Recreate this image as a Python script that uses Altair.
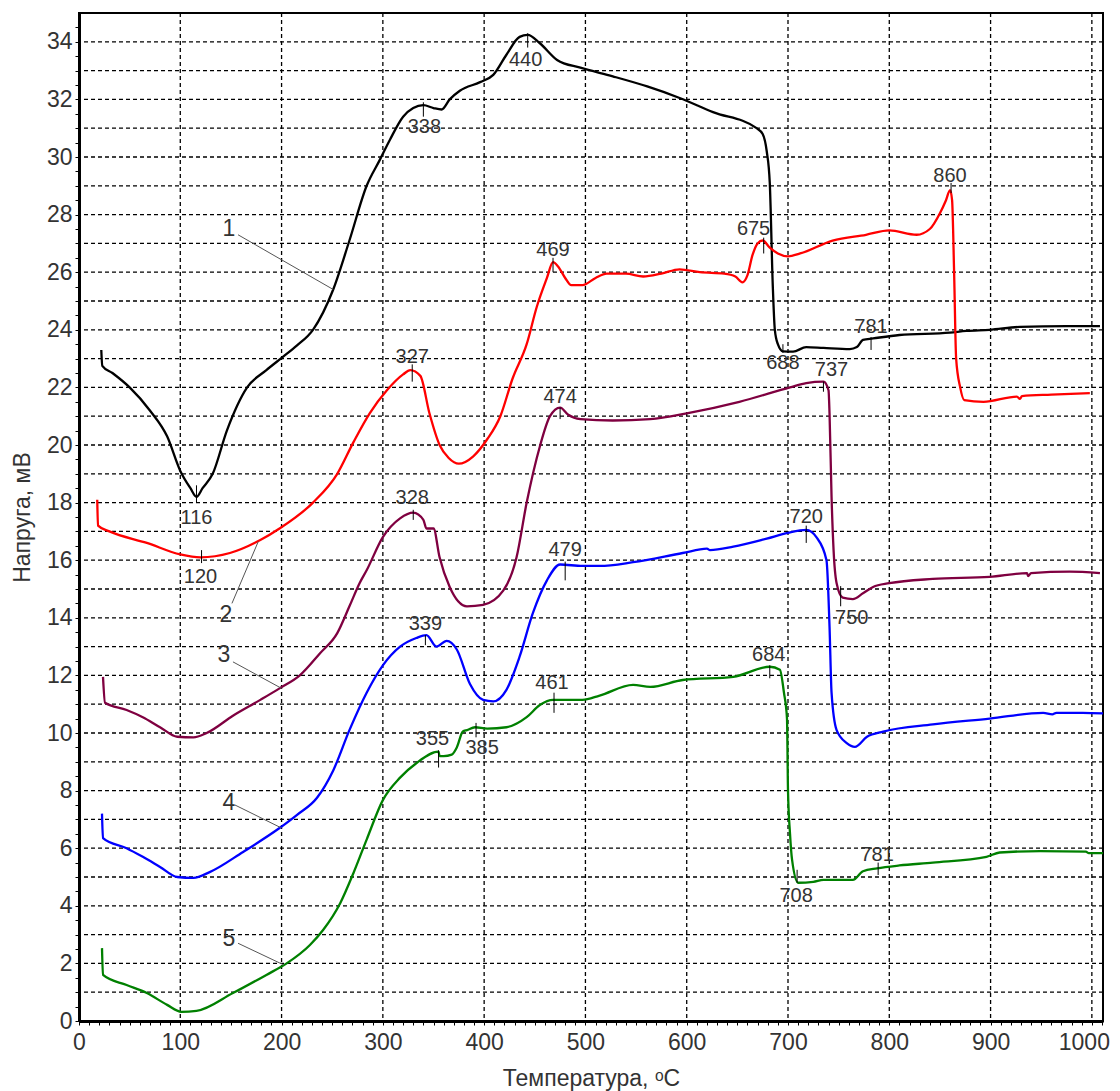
import altair as alt
import pandas as pd

# ---------------- data ----------------
c1_x = [22, 23, 33, 50, 70, 87, 100, 110, 116, 122, 132, 146, 166, 185, 201, 215, 231, 251, 267, 284, 297, 307, 320, 330, 340, 350, 358, 366, 376, 396, 409, 422, 435, 443, 455, 472, 495, 527, 561, 593, 626, 669, 675, 679, 682, 685, 687, 690, 695, 705, 718, 735, 761, 768, 774, 784, 810, 860, 876, 899, 929, 975, 1008]
c1_y = [23.3, 22.75, 22.5, 22.0, 21.2, 20.3, 19.1, 18.5, 18.2, 18.5, 19.0, 20.5, 22.0, 22.6, 23.05, 23.45, 24.0, 25.4, 27.1, 29.0, 29.9, 30.6, 31.4, 31.7, 31.8, 31.7, 31.65, 32.0, 32.3, 32.6, 32.85, 33.55, 34.17, 34.24, 33.95, 33.37, 33.1, 32.8, 32.45, 32.05, 31.56, 31.0, 30.8, 30.2, 29.1, 25.5, 24.0, 23.5, 23.25, 23.24, 23.4, 23.37, 23.33, 23.4, 23.65, 23.7, 23.82, 23.9, 23.96, 24.0, 24.1, 24.13, 24.13]

c2_x = [18, 18.8, 30, 67, 100, 120, 149, 179, 198, 231, 255, 271, 287, 304, 320, 327, 337, 346, 356, 365, 375, 389, 403, 416, 428, 442, 452, 462, 468, 473, 480, 486, 497, 510, 521, 540, 557, 575, 593, 613, 637, 648, 655, 660, 665, 670, 675, 682, 690, 700, 712, 744, 777, 800, 827, 840, 850, 856, 860, 862, 864, 866, 870, 874, 893, 926, 929, 931, 960, 998]
c2_y = [18.1, 17.2, 17.0, 16.6, 16.2, 16.1, 16.25, 16.7, 17.1, 18.0, 19.0, 20.1, 21.1, 21.9, 22.45, 22.6, 22.4, 21.1, 20.0, 19.55, 19.35, 19.6, 20.2, 21.0, 22.3, 23.5, 24.8, 25.8, 26.35, 26.2, 25.8, 25.55, 25.55, 25.8, 25.95, 25.95, 25.85, 25.95, 26.1, 26.0, 25.95, 25.85, 25.65, 25.9, 26.6, 27.0, 27.1, 26.85, 26.65, 26.55, 26.65, 27.1, 27.3, 27.45, 27.3, 27.5, 28.05, 28.5, 28.85, 28.5, 26.0, 23.0, 22.0, 21.56, 21.5, 21.68, 21.6, 21.7, 21.75, 21.8]

c3_x = [23.7, 25.7, 47, 63, 80, 97, 113, 126, 152, 179, 198, 218, 238, 255, 267, 277, 284, 300, 317, 330, 340, 343, 350, 356, 366, 383, 399, 419, 432, 442, 455, 465, 475, 483, 495, 527, 564, 600, 652, 702, 718, 735, 740, 741, 743, 745, 748, 754, 764, 774, 784, 800, 843, 899, 936, 937, 940, 978, 1008]
c3_y = [11.95, 11.05, 10.8, 10.55, 10.2, 9.87, 9.85, 10.0, 10.6, 11.15, 11.55, 12.0, 12.77, 13.47, 14.4, 15.2, 15.65, 16.8, 17.45, 17.65, 17.4, 17.1, 17.1, 16.1, 15.07, 14.4, 14.45, 14.95, 16.1, 18.0, 19.95, 21.0, 21.3, 21.05, 20.9, 20.85, 20.9, 21.1, 21.5, 22.0, 22.15, 22.2, 21.9, 21.1, 18.2, 16.35, 15.2, 14.7, 14.65, 14.85, 15.07, 15.2, 15.35, 15.42, 15.55, 15.45, 15.55, 15.6, 15.55]

c4_x = [22.7, 23.7, 47, 63, 80, 97, 113, 129, 162, 198, 215, 235, 251, 267, 284, 300, 317, 333, 343, 353, 363, 373, 386, 399, 409, 422, 435, 448, 462, 475, 497, 514, 547, 596, 620, 623, 646, 679, 700, 718, 728, 738, 741, 743, 748, 758, 766, 778, 794, 843, 899, 952, 961, 965, 991, 1011]
c4_y = [7.2, 6.35, 6.0, 5.7, 5.35, 5.0, 4.97, 5.17, 5.87, 6.7, 7.15, 7.75, 8.7, 10.1, 11.4, 12.35, 13.0, 13.3, 13.4, 13.0, 13.2, 12.9, 11.7, 11.15, 11.1, 11.5, 12.65, 14.15, 15.3, 15.85, 15.8, 15.8, 15.93, 16.25, 16.4, 16.35, 16.47, 16.75, 16.95, 17.05, 16.8, 16.0, 13.7, 11.4, 10.1, 9.65, 9.52, 9.87, 10.05, 10.3, 10.5, 10.7, 10.65, 10.7, 10.7, 10.68]

c5_x = [22.7, 23.7, 47, 67, 87, 101, 116, 152, 185, 205, 228, 241, 258, 271, 284, 300, 317, 333, 355, 356, 360, 368, 373, 379, 383, 391, 403, 422, 442, 455, 468, 497, 514, 547, 564, 596, 646, 682, 692, 696, 699, 700, 702, 704, 710, 725, 735, 764, 774, 788, 810, 843, 896, 909, 949, 994, 997, 1011]
c5_y = [2.53, 1.6, 1.25, 0.97, 0.56, 0.32, 0.35, 0.97, 1.6, 2.0, 2.64, 3.16, 4.1, 5.14, 6.3, 7.67, 8.45, 8.95, 9.35, 9.2, 9.2, 9.25, 9.5, 10.05, 10.1, 10.2, 10.15, 10.2, 10.55, 10.97, 11.15, 11.15, 11.3, 11.67, 11.6, 11.84, 11.95, 12.3, 12.2, 11.4, 10.5, 8.0, 6.5, 5.6, 4.8, 4.83, 4.9, 4.9, 5.2, 5.3, 5.4, 5.5, 5.7, 5.85, 5.9, 5.88, 5.83, 5.83]

curve_names = ["1", "2", "3", "4", "5"]
curve_colors = ["#000000", "#ff0000", "#7f0040", "#0000ff", "#008000"]

# peak annotations: label, tick x, tick y from/to, text x, text y
ann_label = ["440", "338", "116", "120", "327", "328", "339", "469", "474", "479", "461", "355", "385", "675", "688", "737", "720", "750", "684", "708", "781", "781", "860"]
ann_tick_x = [443, 340, 116, 121, 329, 330, 342, 468, 475, 480, 469, 355, 392, 676, 695, 735, 718, 752, 682, 709, 789, 782, 861]
ann_tick_y1 = [33.8, 31.4, 18.0, 15.9, 22.2, 17.4, 13.05, 26.0, 20.9, 15.3, 10.7, 8.8, 9.85, 26.65, 23.2, 21.85, 16.6, 14.4, 11.9, 4.8, 5.07, 23.3, 28.75]
ann_tick_y2 = [34.3, 31.9, 18.6, 16.35, 22.8, 17.75, 13.4, 26.5, 21.3, 15.95, 11.4, 9.4, 10.35, 27.2, 23.5, 22.2, 17.2, 15.1, 12.35, 5.25, 5.5, 23.75, 29.1]
ann_text_x = [441, 341, 116, 120, 329, 329, 342, 468, 475, 480, 467, 349, 398, 666, 695, 743, 718, 763, 681, 708, 788, 782, 860]
ann_text_y = [33.37, 31.05, 17.45, 15.4, 23.05, 18.15, 13.8, 26.77, 21.67, 16.35, 11.74, 9.8, 9.48, 27.5, 22.85, 22.6, 17.5, 14.0, 12.7, 4.33, 5.77, 24.1, 29.35]

# curve number labels with leader lines
num_label = ["1", "2", "3", "4", "5"]
num_text_x = [148, 145, 143, 148, 148]
num_text_y = [27.5, 14.1, 12.7, 7.57, 2.85]
lead_x1 = [157, 151, 152, 154, 157]
lead_y1 = [27.3, 14.5, 12.47, 7.5, 2.7]
lead_x2 = [251, 177, 200, 200, 202]
lead_y2 = [25.4, 16.65, 11.55, 6.7, 1.95]

x_ticks = list(range(0, 1011, 10))
y_ticks = [v / 2 for v in range(0, 70)]
x_grid = list(range(100, 1001, 100))
y_grid = list(range(1, 35))

# ---------------- tables ----------------
rows = []
for name, xs, ys in zip(curve_names, [c1_x, c2_x, c3_x, c4_x, c5_x], [c1_y, c2_y, c3_y, c4_y, c5_y]):
    for i, (xv, yv) in enumerate(zip(xs, ys)):
        rows.append({"curve": name, "x": xv, "y": yv, "i": i})
curves = pd.DataFrame(rows)

ann = pd.DataFrame({"label": ann_label, "tx": ann_tick_x, "ty1": ann_tick_y1, "ty2": ann_tick_y2,
                    "lx": ann_text_x, "ly": ann_text_y})
nums = pd.DataFrame({"label": num_label, "lx": num_text_x, "ly": num_text_y,
                     "x1": lead_x1, "y1": lead_y1, "x2": lead_x2, "y2": lead_y2})
xg = pd.DataFrame({"g": x_grid})
yg = pd.DataFrame({"g": y_grid})

FONT = "Liberation Sans"
TXT = "#333333"

xscale = alt.Scale(domain=[0, 1011], nice=False, zero=False)
yscale = alt.Scale(domain=[0, 35], nice=False, zero=False)

x_axis = alt.Axis(
    values=x_ticks,
    labelExpr="datum.value % 100 === 0 ? format(datum.value, 'd') : ''",
    labelOffset={"condition": {"test": "datum.value === 1000", "value": -8}, "value": 0},
    title="Температура, ᵒC",
    grid=False,
    tickSize=4,
    tickColor="#000000",
    labelOverlap=False,
    labelFlush=False,
    labelPadding=6,
    titleX=512,
    titleY=57,
    titleBaseline="middle",
)
y_axis = alt.Axis(
    values=y_ticks,
    labelExpr="datum.value % 2 === 0 ? format(datum.value, 'd') : ''",
    title="Напруга, мВ",
    grid=False,
    tickSize=4,
    tickColor="#000000",
    labelOverlap=False,
    labelFlush=False,
    labelPadding=3,
    titleX=-57,
    titleY=504,
    titleAngle=270,
    titleAlign="center",
    titleBaseline="middle",
)


def X(field):
    return alt.X(field, type="quantitative", scale=xscale, axis=x_axis)


def Y(field):
    return alt.Y(field, type="quantitative", scale=yscale, axis=y_axis)


grid_style = dict(color="#000000", strokeWidth=1.3, strokeDash=[4, 3])
vgrid = alt.Chart(xg).mark_rule(**grid_style).encode(x=X("g"))
hgrid = alt.Chart(yg).mark_rule(**grid_style).encode(y=Y("g"))

lines = alt.Chart(curves).mark_line(strokeWidth=2.3, strokeJoin="round", interpolate="monotone").encode(
    x=X("x"),
    y=Y("y"),
    color=alt.Color("curve:N", scale=alt.Scale(domain=curve_names, range=curve_colors), legend=None),
    detail="curve:N",
    order="i:Q",
)

ticks = alt.Chart(ann).mark_rule(color="#000000", strokeWidth=1).encode(
    x=X("tx"), y=Y("ty1"), y2="ty2:Q"
)
ann_text = alt.Chart(ann).mark_text(font=FONT, fontSize=20, color=TXT, baseline="middle", align="center").encode(
    x=X("lx"), y=Y("ly"), text="label:N"
)
leaders = alt.Chart(nums).mark_rule(color="#555555", strokeWidth=1).encode(
    x=X("x1"), y=Y("y1"), x2="x2:Q", y2="y2:Q"
)
num_text = alt.Chart(nums).mark_text(font=FONT, fontSize=23, color=TXT, baseline="middle", align="center").encode(
    x=X("lx"), y=Y("ly"), text="label:N"
)

chart = alt.layer(vgrid, hgrid, lines, leaders, num_text, ticks, ann_text).properties(
    width=1024,
    height=1008,
    autosize=alt.AutoSizeParams(type="none"),
    padding={"left": 71, "top": 5, "right": 9, "bottom": 70},
).configure_view(
    stroke="#000000", strokeWidth=2
).configure_axis(
    domainColor="#000000",
    domainWidth=3,
    labelFont=FONT,
    labelFontSize=23,
    labelColor=TXT,
    titleFont=FONT,
    titleFontSize=23,
    titleColor=TXT,
    titleFontWeight="normal",
    labelOverlap=False,
)

chart.save("out.html", embed_options={"renderer": "svg", "actions": False})
